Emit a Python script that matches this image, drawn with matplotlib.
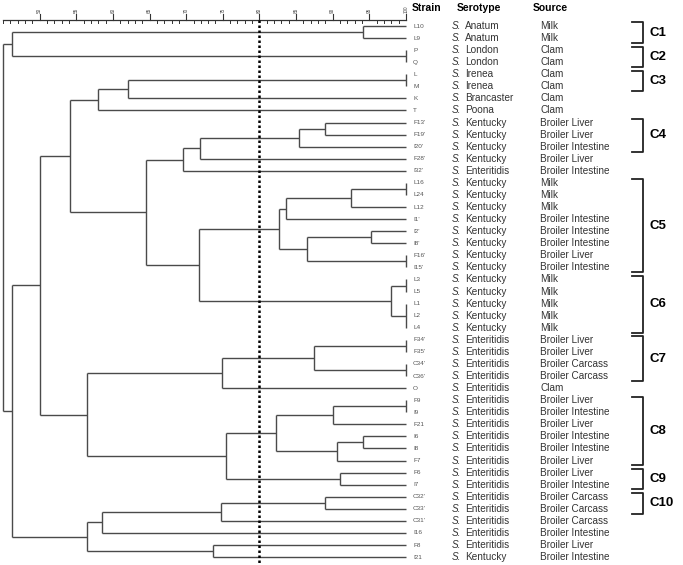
import matplotlib
matplotlib.use("Agg")
import matplotlib.pyplot as plt

plt.rcParams['font.family'] = ['Liberation Sans', 'DejaVu Sans']

# leaf order, top to bottom
strains = ["L10", "L9", "P", "Q", "L", "M", "K", "T",
           "F13'", "F19'", "I20'", "F28'", "I32'",
           "L16", "L24", "L12", "I1'", "I2'", "I8'", "F16'", "I15'",
           "L3", "L5", "L1", "L2", "L4",
           "F34'", "F35'", "C34'", "C36'", "O",
           "F9", "I9", "F21", "I6", "I8", "F7", "F6", "I7",
           "C32'", "C33'", "C31'", "I16", "F8", "I21"]
serotypes = ["Anatum", "Anatum", "London", "London", "Irenea", "Irenea", "Brancaster", "Poona",
             "Kentucky", "Kentucky", "Kentucky", "Kentucky", "Enteritidis",
             "Kentucky", "Kentucky", "Kentucky", "Kentucky", "Kentucky", "Kentucky", "Kentucky", "Kentucky",
             "Kentucky", "Kentucky", "Kentucky", "Kentucky", "Kentucky",
             "Enteritidis", "Enteritidis", "Enteritidis", "Enteritidis", "Enteritidis",
             "Enteritidis", "Enteritidis", "Enteritidis", "Enteritidis", "Enteritidis", "Enteritidis",
             "Enteritidis", "Enteritidis",
             "Enteritidis", "Enteritidis", "Enteritidis", "Enteritidis", "Enteritidis", "Kentucky"]
sources = ["Milk", "Milk", "Clam", "Clam", "Clam", "Clam", "Clam", "Clam",
           "Broiler Liver", "Broiler Liver", "Broiler Intestine", "Broiler Liver", "Broiler Intestine",
           "Milk", "Milk", "Milk", "Broiler Intestine", "Broiler Intestine", "Broiler Intestine",
           "Broiler Liver", "Broiler Intestine",
           "Milk", "Milk", "Milk", "Milk", "Milk",
           "Broiler Liver", "Broiler Liver", "Broiler Carcass", "Broiler Carcass", "Clam",
           "Broiler Liver", "Broiler Intestine", "Broiler Liver", "Broiler Intestine", "Broiler Intestine",
           "Broiler Liver", "Broiler Liver", "Broiler Intestine",
           "Broiler Carcass", "Broiler Carcass", "Broiler Carcass", "Broiler Intestine",
           "Broiler Liver", "Broiler Intestine"]

# merges: (children, similarity %); ints refer to earlier merges
merges = [
    (["L10", "L9"], 94.1),
    (["P", "Q"], 100),
    ([0, 1], 46.2),
    (["L", "M"], 100),
    ([3, "K"], 62.0),
    ([4, "T"], 57.9),
    (["F13'", "F19'"], 88.9),
    ([6, "I20'"], 85.4),
    ([7, "F28'"], 71.9),
    ([8, "I32'"], 69.5),
    (["L16", "L24"], 100),
    ([10, "L12"], 92.5),
    ([11, "I1'"], 83.6),
    (["I2'", "I8'"], 95.2),
    (["F16'", "I15'"], 100),
    ([13, 14], 86.5),
    ([12, 15], 82.7),
    (["L3", "L5"], 100),
    (["L1", "L2", "L4"], 100),
    ([17, 18], 98.0),
    ([16, 19], 71.7),
    ([9, 20], 64.5),
    ([5, 21], 54.1),
    (["F34'", "F35'"], 100),
    (["C34'", "C36'"], 100),
    ([23, 24], 87.4),
    ([25, "O"], 74.9),
    (["F9", "I9"], 100),
    ([27, "F21"], 90.0),
    (["I6", "I8"], 94.1),
    ([29, "F7"], 90.6),
    ([28, 30], 82.2),
    (["F6", "I7"], 91.0),
    ([31, 32], 75.4),
    ([26, 33], 56.4),
    ([22, 34], 50.1),
    (["C32'", "C33'"], 88.9),
    ([36, "C31'"], 74.7),
    ([37, "I16"], 58.5),
    (["F8", "I21"], 73.6),
    ([38, 39], 56.4),
    ([35, 40], 46.2),
    ([2, 41], 45.0),
]

clusters = ["C1", "C2", "C3", "C4", "C5", "C6", "C7", "C8", "C9", "C10"]
cluster_first = ["L10", "P", "L", "F13'", "L16", "L3", "F34'", "F9", "F6", "C32'"]
cluster_last = ["L9", "Q", "M", "I20'", "I15'", "L4", "C36'", "F7", "I7", "C33'"]

axis_ticks = list(range(50, 101, 5))
cutoff = 80

# pixel layout helpers (figure is 683x565 px)
PPU = 403 / 55.0          # px per similarity unit
ROW = 12.07               # px per leaf row
def px(x):
    return 45 + (x - 3) / PPU
def py(y):
    return (y - 26) / ROW

fig = plt.figure(figsize=(6.83, 5.65), dpi=100)
ax = fig.add_axes([0, 0, 1, 1])
ax.set_xlim(px(0), px(683))
ax.set_ylim(py(565), py(0))
ax.axis('off')

line_kw = dict(color='#4a4a4a', lw=1.0, solid_capstyle='butt')
leaf_y = {s: i for i, s in enumerate(strains)}
node_x, node_y = {}, {}

def pos(c):
    if isinstance(c, int):
        return node_x[c], node_y[c]
    return 100, leaf_y[c]

for k, (children, sim) in enumerate(merges):
    ys = []
    for c in children:
        cx, cy = pos(c)
        ax.plot([sim, cx], [cy, cy], **line_kw)
        ys.append(cy)
    ax.plot([sim, sim], [min(ys), max(ys)], **line_kw)
    node_x[k] = sim
    node_y[k] = (min(ys) + max(ys)) / 2

# similarity scale on top
scale_y = py(20)
ax.plot([45, 100], [scale_y, scale_y], color='#333333', lw=0.9)
for v in range(45, 101):
    if v in axis_ticks:
        ax.plot([v, v], [scale_y, py(14)], color='#333333', lw=0.8)
        ax.text(v, py(13), str(v), rotation=90, ha='center', va='bottom',
                fontsize=3.3, color='#444444')
    else:
        ax.plot([v, v], [scale_y, py(22.5)], color='#333333', lw=0.7)

# cut-off line
ax.plot([cutoff, cutoff], [scale_y, py(565)], color='black', lw=1.8,
        linestyle=(0, (1, 1)))

# column headers
head_y = py(8)
ax.text(px(412), head_y, "Strain", fontsize=7.5, fontweight='bold', va='center')
ax.text(px(457), head_y, "Serotype", fontsize=7.5, fontweight='bold', va='center')
ax.text(px(533), head_y, "Source", fontsize=7.5, fontweight='bold', va='center')

for i, (s, sero, src) in enumerate(zip(strains, serotypes, sources)):
    ax.text(px(413), i, s, fontsize=4.6, color='#555555', va='center')
    ax.text(px(452), i, "S.", fontsize=7.2, style='italic', color='#333333', va='center')
    ax.text(px(465), i, sero, fontsize=7.2, color='#333333', va='center')
    ax.text(px(540), i, src, fontsize=7.2, color='#333333', va='center')

# cluster brackets
bx0, bx1 = px(632), px(643)
for name, a, b in zip(clusters, cluster_first, cluster_last):
    y0 = leaf_y[a] - 0.3
    y1 = leaf_y[b] + 0.4
    ax.plot([bx0, bx1, bx1, bx0], [y0, y0, y1, y1], color='#222222', lw=1.3)
    ax.text(px(649), (y0 + y1) / 2, name, fontsize=9.5, fontweight='bold', va='center')

fig.savefig("out.png", dpi=100)
